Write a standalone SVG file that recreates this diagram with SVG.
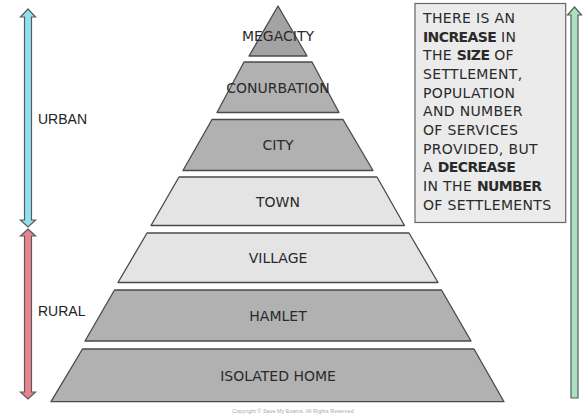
<svg xmlns="http://www.w3.org/2000/svg" width="587" height="417" viewBox="0 0 587 417">
<style>
.layer{stroke:#4a4a4a;stroke-width:1.3;stroke-linejoin:round}
.dark{fill:#b1b1b1}
.light{fill:#e4e4e4}
.lbl{font-family:"DejaVu Sans",sans-serif;font-size:14px;fill:#2a2a2a;text-anchor:middle}
.side{font-family:"Liberation Sans",Arial,sans-serif;font-size:14px;fill:#222}
.box{font-family:"DejaVu Sans",sans-serif;font-size:14px;fill:#2a2a2a;letter-spacing:0.35px}
.b{font-weight:bold;letter-spacing:-0.6px}
.arrow{stroke:#5a5a5a;stroke-width:1.2;stroke-linejoin:miter}
</style>
<rect width="587" height="417" fill="#ffffff"/>
<g id="connectors">
<path class="arrow" fill="#8fe1ef" d="M28,9 L35.5,17 L31.5,17 L31.5,220 L35.5,220 L28,227 L20.5,220 L24.5,220 L24.5,17 L20.5,17 Z"/>
<path class="arrow" fill="#e8848d" d="M28,229 L35.5,236 L31.5,236 L31.5,392 L35.5,392 L28,399 L20.5,392 L24.5,392 L24.5,236 L20.5,236 Z"/>
<path class="arrow" fill="#a9e2c0" d="M574.5,7 L581.5,15 L578,15 L578,398 L571,398 L571,15 L567.5,15 Z"/>
</g>
<g id="urban-label"><text class="side" x="38" y="124">URBAN</text></g>
<g id="rural-label"><text class="side" x="38" y="315.5">RURAL</text></g>
<g id="megacity">
<polygon class="layer" fill="#a3a3a3" points="278,6 307,56 249,56"/>
<text class="lbl" x="278" y="40.7">MEGACITY</text>
</g>
<g id="conurbation">
<polygon class="layer dark" points="244,62 312,62 339,112.5 217,112.5"/>
<text class="lbl" x="278" y="92.5">CONURBATION</text>
</g>
<g id="city">
<polygon class="layer dark" points="212,119.5 343,119.5 373,170.5 183,170.5"/>
<text class="lbl" x="278" y="149.8">CITY</text>
</g>
<g id="town">
<polygon class="layer light" points="179,177 377,177 404.5,225.5 151,225.5"/>
<text class="lbl" x="278" y="206.5">TOWN</text>
</g>
<g id="village">
<polygon class="layer light" points="147,233 409,233 438,282.5 118,282.5"/>
<text class="lbl" x="278" y="263.3">VILLAGE</text>
</g>
<g id="hamlet">
<polygon class="layer dark" points="114.5,290 441.5,290 471,341 85,341"/>
<text class="lbl" x="278" y="321">HAMLET</text>
</g>
<g id="isolated-home">
<polygon class="layer dark" points="82.5,349 474,349 504,401.7 51,401.7"/>
<text class="lbl" x="278" y="380.7">ISOLATED HOME</text>
</g>
<g id="info-box">
<rect x="415" y="3.5" width="150.7" height="219" fill="#ebebeb" stroke="#666" stroke-width="1.2"/>
<text class="box" x="423" y="23">THERE IS AN</text>
<text class="box" x="423" y="41.6"><tspan class="b">INCREASE</tspan> IN</text>
<text class="box" x="423" y="60.3">THE <tspan class="b">SIZE</tspan> OF</text>
<text class="box" x="423" y="79">SETTLEMENT,</text>
<text class="box" x="423" y="97.6">POPULATION</text>
<text class="box" x="423" y="116.3">AND NUMBER</text>
<text class="box" x="423" y="134.9">OF SERVICES</text>
<text class="box" x="423" y="153.6">PROVIDED, BUT</text>
<text class="box" x="423" y="172.2">A <tspan class="b">DECREASE</tspan></text>
<text class="box" x="423" y="190.9">IN THE <tspan class="b">NUMBER</tspan></text>
<text class="box" x="423" y="209.5">OF SETTLEMENTS</text>
</g>
<text x="293" y="413" font-family="'Liberation Sans',Arial,sans-serif" font-size="5.5" fill="#aaaaaa" text-anchor="middle">Copyright © Save My Exams. All Rights Reserved</text>
</svg>
